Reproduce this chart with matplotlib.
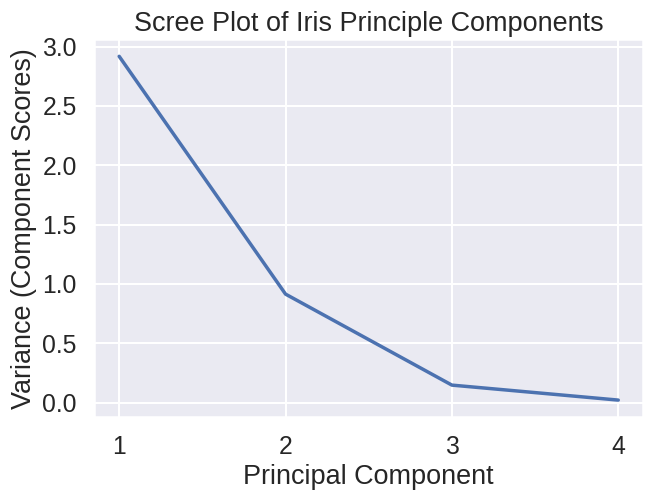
import matplotlib
matplotlib.use("Agg")
import matplotlib.pyplot as plt
from matplotlib.ticker import MultipleLocator
import seaborn as sns

sns.set_theme(context="talk", style="darkgrid", font_scale=1.08)
plt.rcParams['font.family'] = ['Liberation Sans', 'DejaVu Sans']

components = [1, 2, 3, 4]
variance = [2.918, 0.914, 0.147, 0.0207]

fig, ax = plt.subplots(figsize=(6.54, 5.01), dpi=100)
ax.plot(components, variance, linewidth=2.5)
ax.set_xticks(components)
ax.yaxis.set_major_locator(MultipleLocator(0.5))
ax.set_title("Scree Plot of Iris Principle Components")
ax.set_xlabel("Principal Component")
ax.set_ylabel("Variance (Component Scores)")
fig.tight_layout(pad=0.4)
fig.savefig("out.png", dpi=100)
